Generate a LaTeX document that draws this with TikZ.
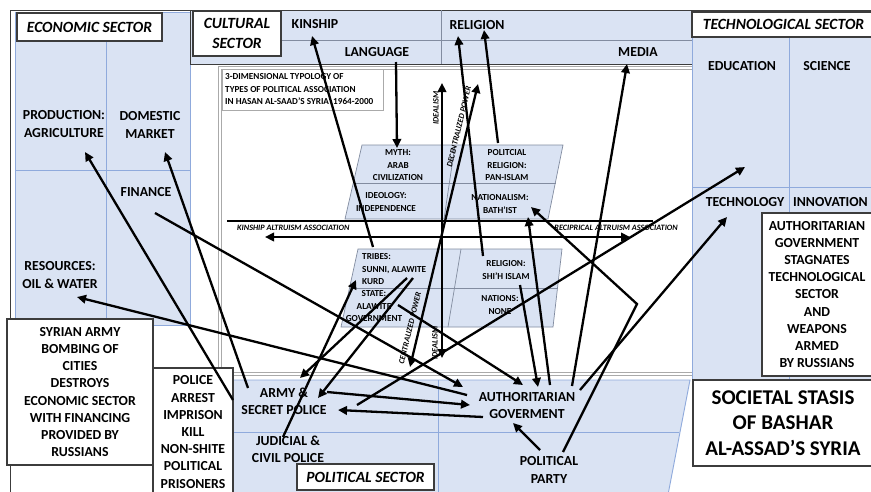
\documentclass[tikz,border=0pt]{standalone}
\usepackage{fontspec}
\setmainfont{Carlito}
\usetikzlibrary{arrows.meta}
\definecolor{paneFill}{RGB}{218,227,243}
\definecolor{paneEdge}{RGB}{143,170,220}
\definecolor{frameGray}{RGB}{170,170,170}
\definecolor{darkEdge}{RGB}{60,60,60}
\definecolor{planeEdge}{RGB}{130,140,160}
\newcommand\dgLbl{\fontsize{13.8}{17.2}\selectfont\bfseries}
\newcommand\dgSec{\fontsize{15.6}{20}\selectfont\bfseries\itshape}
\newcommand\dgTyp{\fontsize{9.2}{12.5}\selectfont\bfseries}
\newcommand\dgAxis{\fontsize{8.2}{9}\selectfont\bfseries\itshape}
\newcommand\dgBig{\fontsize{21}{25.5}\selectfont\bfseries}
\begin{document}
\begin{tikzpicture}[x=1pt,y=-1pt,
  lbl/.style={font=\dgLbl,align=center,inner sep=0pt},
  sectxt/.style={font=\dgSec,align=center,inner sep=0pt},
  typ/.style={font=\dgTyp,align=center,inner sep=0pt},
  axislbl/.style={font=\dgAxis,inner sep=0pt},
  pane/.style={fill=paneFill,draw=paneEdge,line width=0.9pt},
  divider/.style={draw=paneEdge,line width=0.9pt},
  tag/.style={fill=white,draw=darkEdge,line width=1.1pt},
  plane/.style={fill=paneFill,draw=planeEdge,line width=0.7pt},
  flow/.style={line width=2.3pt,-{Triangle[length=9pt,width=8.5pt]}},
  twoway/.style={line width=2.3pt,{Triangle[length=9pt,width=8.5pt]}-{Triangle[length=9pt,width=8.5pt]}},
]
\clip (0,0) rectangle (871,491);
\fill[white] (0,0) rectangle (871,491);

% outer frame
\draw[darkEdge,line width=1pt] (10,500) -- (10,10) -- (880,10);

% economic sector panel
\draw[pane] (15,12) rectangle (190,325);
\draw[divider] (106,12) -- (106,325);
\draw[divider] (15,170) -- (190,170);

% central typology frame
\draw[frameGray,line width=0.9pt] (218,66) rectangle (694,375);
\draw[frameGray,line width=0.9pt] (221,69) rectangle (694,372);

% cultural sector panel
\draw[fill=paneFill,draw=darkEdge,line width=1pt] (190,10) rectangle (692,64);
\draw[draw=planeEdge,line width=0.9pt] (281,40) -- (692,40);
\draw[draw=planeEdge,line width=0.9pt] (441,10) -- (441,64);

% technological sector panel
\draw[pane] (692,12) rectangle (880,380);
\draw[divider] (789,37) -- (789,380);
\draw[divider] (692,187) -- (880,187);

% political sector panel
\draw[pane] (233,380) -- (690,380) -- (667,500) -- (233,500) -- cycle;
\draw[divider] (233,432) -- (679,432);
\draw[divider] (438,380) -- (438,500);

% sector tags
\node[tag,sectxt,minimum width=145pt,minimum height=28pt] (econTag) at (89.5,27) {ECONOMIC SECTOR};
\node[tag,sectxt,minimum width=88pt,minimum height=45pt] (cultTag) at (237,33.5) {CULTURAL\\SECTOR};
\node[tag,sectxt,minimum width=183pt,minimum height=25pt] (techTag) at (783.5,24.5) {TECHNOLOGICAL SECTOR};
\node[tag,sectxt,minimum width=137pt,minimum height=26pt] (polTag) at (365.5,477) {POLITICAL SECTOR};

% economic labels
\node[lbl] (prod) at (64,124) {PRODUCTION:\\AGRICULTURE};
\node[lbl] (dom) at (150,125) {DOMESTIC\\MARKET};
\node[lbl] (fin) at (146,192) {FINANCE};
\node[lbl] (res) at (60,275) {RESOURCES:\\OIL \& WATER};

% cultural labels
\node[lbl] (kin) at (315,24) {KINSHIP};
\node[lbl] (lang) at (377,52) {LANGUAGE};
\node[lbl] (relig) at (477,25) {RELIGION};
\node[lbl] (media) at (638,52) {MEDIA};

% technological labels
\node[lbl] (edu) at (742,66) {EDUCATION};
\node[lbl] (sci) at (827,66) {SCIENCE};
\node[lbl] (tech) at (745,202) {TECHNOLOGY};
\node[lbl,anchor=west] (innov) at (793,202) {INNOVATION};

% note boxes
\node[tag,lbl,minimum width=146pt,minimum height=146pt] (bombing) at (80,392)
  {SYRIAN ARMY\\BOMBING OF\\CITIES\\DESTROYS\\ECONOMIC SECTOR\\WITH FINANCING\\PROVIDED BY\\RUSSIANS};
\node[tag,minimum width=80pt,minimum height=132pt] (arrestBox) at (193,434) {};
\node[lbl] (arrest) at (193,432) {POLICE\\ARREST\\IMPRISON\\KILL\\NON-SHITE\\POLITICAL\\PRISONERS};
\node[tag,lbl,minimum width=110pt,minimum height=163pt] (stagnate) at (817,294.5)
  {AUTHORITARIAN\\GOVERNMENT\\STAGNATES\\TECHNOLOGICAL\\SECTOR\\AND\\WEAPONS\\ARMED\\BY RUSSIANS};
\node[tag,minimum width=180pt,minimum height=86pt] (stasisBox) at (783,423) {};
\node[font=\dgBig,align=center,inner sep=0pt] (stasis) at (783,423)
  {SOCIETAL STASIS\\OF BASHAR\\AL-ASSAD’S SYRIA};

% typology title
\node[draw=frameGray,fill=white,line width=0.9pt,minimum width=161pt,minimum height=41pt,anchor=north west] (ttlBox) at (222,69) {};
\node[typ,align=left,anchor=west] (ttl) at (225,89.5)
  {3-DIMENSIONAL TYPOLOGY OF\\TYPES OF POLITICAL ASSOCIATION\\IN HASAN AL-SAAD’S SYRIA\ \ 1964-2000};

% upper typology plane
\draw[plane] (362,145) -- (563,145) -- (548,219) -- (345,219) -- cycle;
\draw[planeEdge,line width=0.7pt] (353.5,183) -- (555.5,183);
\draw[planeEdge,line width=0.7pt] (455,145) -- (444,219);
\node[typ] (myth) at (398,165.5) {MYTH:\\ARAB\\CIVILIZATION};
\node[typ] (polrel) at (507,165.5) {POLITCIAL\\RELIGION:\\PAN-ISLAM};
\node[typ] (ideo) at (386,202) {IDEOLOGY:\\INDEPENDENCE};
\node[typ] (nat) at (500,204) {NATIONALISM:\\BATH’IST};

% lower typology plane
\draw[plane] (358,249) -- (562,249) -- (553,327) -- (341,327) -- cycle;
\draw[planeEdge,line width=0.7pt] (349.5,288) -- (557.5,288);
\draw[planeEdge,line width=0.7pt] (461,249) -- (448,327);
\node[typ,align=left,anchor=west] (tribes) at (362,269.5) {TRIBES:\\SUNNI, ALAWITE\\KURD};
\node[typ] (state) at (374,306.5) {STATE:\\ALAWITE\\GOVERNMENT};
\node[typ] (shia) at (506,270) {RELIGION:\\SHI’H ISLAM};
\node[typ] (nations) at (500,305) {NATIONS:\\NONE};

% altruism axis
\node[axislbl,anchor=west] (kinAlt) at (237,228) {KINSHIP ALTRUISM ASSOCIATION};
\node[axislbl,anchor=east] (recAlt) at (678,228) {RECIPRICAL ALTRUISM ASSOCIATION};
\coordinate (altL) at (227,221);
\coordinate (altR) at (653,221);
\draw[line width=2.3pt] (altL) -- (altR);
\coordinate (altArrL) at (265,237);
\coordinate (altArrR) at (630,237);
\draw[twoway] (altArrL) -- (altArrR);

% idealism axis
\coordinate (idTop) at (442,83);
\coordinate (idBot) at (442,358);
\draw[twoway] (idTop) -- (idBot);
\node[axislbl,rotate=90] (idLblTop) at (436,108) {IDEALISM};
\node[axislbl,rotate=90] (idLblBot) at (435,343) {IDEALISM};

% power axis
\coordinate (pwTop) at (478,84);
\coordinate (pwBot) at (410,367);
\draw[twoway] (pwTop) -- (pwBot);
\node[axislbl,rotate=76.5] (decen) at (459,127) {DECENTRALIZED POWER};
\node[axislbl,rotate=76.5] (cen) at (410,328) {CENTRALIZED POWER};

% political labels
\node[lbl] (army) at (284,401.5) {ARMY \&\\SECRET POLICE};
\node[lbl] (jud) at (288,449.5) {JUDICIAL \&\\CIVIL POLICE};
\node[lbl] (auth) at (527,405.5) {AUTHORITARIAN\\GOVERMENT};
\node[lbl] (party) at (549,470) {POLITICAL\\PARTY};

% connector end points
\coordinate (kinT) at (373,247);   \coordinate (kinH) at (312,36);
\coordinate (langT) at (396,62);   \coordinate (mythH) at (397,148);
\coordinate (relAT) at (483,256);  \coordinate (relAH) at (458,36);
\coordinate (relBT) at (498,143);  \coordinate (relBH) at (484,30);
\coordinate (mediaT) at (572,386); \coordinate (mediaH) at (627,64);
\coordinate (eduT) at (357,405);   \coordinate (eduH) at (745,167);
\coordinate (techT) at (580,390);  \coordinate (techH) at (727,217);
\coordinate (natT) at (563,452);   \coordinate (natBend) at (637,304); \coordinate (natH) at (531,207);
\coordinate (partyT) at (540,450); \coordinate (partyH) at (513,423);
\coordinate (bathT) at (550,385);  \coordinate (bathH) at (528,217);
\coordinate (shiaT) at (520,285);  \coordinate (shiaH) at (538,387);
\coordinate (stateT) at (398,305); \coordinate (stateH) at (523,385);
\coordinate (finT) at (155,213);   \coordinate (finH) at (463,387);
\coordinate (resT) at (467,395);   \coordinate (resH) at (77,297);
\coordinate (prodT) at (233,400);  \coordinate (prodH) at (85,152);
\coordinate (domT) at (248,388);   \coordinate (domH) at (165,152);
\coordinate (armyT) at (327,392);  \coordinate (armyH) at (470,405);
\coordinate (authT) at (483,417);  \coordinate (authH) at (338,410);
\coordinate (judT) at (283,437);   \coordinate (judH) at (356,280);
\coordinate (trAT) at (407,278);   \coordinate (trAH) at (300,378);
\coordinate (trBT) at (413,278);   \coordinate (trBH) at (318,398);

% connectors
\draw[flow] (kinT) -- (kinH);
\draw[flow] (langT) -- (mythH);
\draw[flow] (relAT) -- (relAH);
\draw[flow] (relBT) -- (relBH);
\draw[flow] (mediaT) -- (mediaH);
\draw[flow] (eduT) -- (eduH);
\draw[flow] (techT) -- (techH);
\draw[flow] (natT) -- (natBend) -- (natH);
\draw[flow] (partyT) -- (partyH);
\draw[flow] (bathT) -- (bathH);
\draw[flow] (shiaT) -- (shiaH);
\draw[flow] (stateT) -- (stateH);
\draw[flow] (finT) -- (finH);
\draw[flow] (resT) -- (resH);
\draw[flow] (prodT) -- (prodH);
\draw[flow] (domT) -- (domH);
\draw[flow] (armyT) -- (armyH);
\draw[flow] (authT) -- (authH);
\draw[flow] (judT) -- (judH);
\draw[flow] (trAT) -- (trAH);
\draw[flow] (trBT) -- (trBH);
\end{tikzpicture}
\end{document}
